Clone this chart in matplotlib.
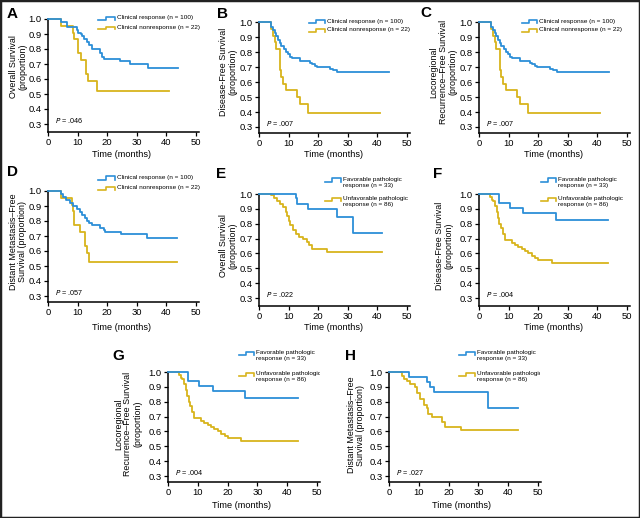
import matplotlib
matplotlib.use("Agg")
import matplotlib.pyplot as plt
from matplotlib.lines import Line2D
from matplotlib.patches import Rectangle
from matplotlib.transforms import Bbox, TransformedBbox

# ---- data (time in months, survival proportion) ----
a_resp_t = [0, 4.4, 6.3, 9.7, 10.3, 11.0, 11.6, 12.3, 13.1, 14.0, 14.8, 17.6, 18.1, 19.0, 24.3, 27.7, 33.7, 43.8]
a_resp_s = [1.0, 0.98, 0.95, 0.93, 0.91, 0.90, 0.885, 0.87, 0.85, 0.825, 0.80, 0.775, 0.75, 0.735, 0.718, 0.70, 0.673, 0.673]
a_non_t = [0, 4.4, 8.5, 8.8, 10.0, 11.2, 12.7, 13.5, 16.7, 40.8]
a_non_s = [1.0, 0.955, 0.909, 0.864, 0.773, 0.727, 0.636, 0.59, 0.52, 0.52]

b_resp_t = [0, 4.2, 4.8, 5.3, 5.9, 6.4, 7.0, 7.6, 8.3, 9.0, 9.8, 10.4, 11.0, 13.8, 17.2, 18.0, 18.8, 19.6, 24.0, 25.0, 26.2, 43.8]
b_resp_s = [1.0, 0.97, 0.95, 0.93, 0.91, 0.88, 0.86, 0.84, 0.82, 0.80, 0.79, 0.77, 0.76, 0.74, 0.73, 0.72, 0.71, 0.70, 0.69, 0.68, 0.665, 0.665]
b_non_t = [0, 4.0, 4.8, 5.3, 5.9, 7.0, 7.5, 8.2, 9.2, 12.8, 14.0, 16.6, 41.0]
b_non_s = [1.0, 0.955, 0.909, 0.864, 0.818, 0.682, 0.636, 0.59, 0.545, 0.50, 0.455, 0.395, 0.395]

c_resp_t = list(b_resp_t)
c_resp_s = list(b_resp_s)
c_non_t = list(b_non_t)
c_non_s = list(b_non_s)

d_resp_t = [0, 4.5, 5.0, 6.2, 7.3, 8.5, 9.8, 10.7, 11.6, 12.4, 13.2, 13.9, 14.7, 17.5, 18.8, 19.4, 24.5, 33.3, 43.7]
d_resp_s = [1.0, 0.98, 0.96, 0.94, 0.92, 0.90, 0.88, 0.86, 0.84, 0.82, 0.80, 0.79, 0.775, 0.755, 0.74, 0.725, 0.713, 0.685, 0.685]
d_non_t = [0, 4.3, 8.1, 8.5, 8.9, 10.7, 12.4, 13.2, 13.9, 43.7]
d_non_s = [1.0, 0.955, 0.909, 0.864, 0.773, 0.727, 0.636, 0.59, 0.53, 0.53]

e_fav_t = [0, 12.4, 12.9, 16.6, 26.2, 31.9, 41.5]
e_fav_s = [1.0, 0.97, 0.933, 0.90, 0.845, 0.738, 0.738]
e_unf_t = [0, 4.1, 5.0, 6.0, 7.1, 8.2, 9.0, 9.6, 10.1, 10.6, 11.5, 12.5, 13.5, 15.0, 16.2, 17.0, 17.8, 23.0, 41.5]
e_unf_s = [1.0, 0.99, 0.97, 0.95, 0.93, 0.91, 0.88, 0.85, 0.82, 0.79, 0.76, 0.73, 0.71, 0.70, 0.68, 0.66, 0.63, 0.61, 0.61]

f_fav_t = [0, 6.8, 10.5, 15.0, 26.0, 43.7]
f_fav_s = [1.0, 0.94, 0.906, 0.872, 0.822, 0.822]
f_unf_t = [0, 3.6, 4.3, 4.8, 5.4, 6.0, 6.5, 6.9, 7.4, 8.0, 8.8, 11.0, 12.2, 13.3, 14.4, 15.5, 16.7, 17.8, 19.0, 20.0, 24.5, 43.7]
f_unf_s = [1.0, 0.98, 0.96, 0.95, 0.92, 0.88, 0.84, 0.80, 0.77, 0.73, 0.69, 0.67, 0.66, 0.645, 0.63, 0.615, 0.60, 0.585, 0.57, 0.555, 0.537, 0.537]

g_fav_t = list(f_fav_t)
g_fav_s = list(f_fav_s)
g_unf_t = list(f_unf_t)
g_unf_s = list(f_unf_s)

h_fav_t = [0, 6.8, 12.8, 13.6, 15.1, 33.3, 43.3]
h_fav_s = [1.0, 0.967, 0.933, 0.90, 0.867, 0.758, 0.758]
h_unf_t = [0, 4.2, 5.2, 6.0, 7.0, 8.6, 9.5, 10.5, 11.7, 12.6, 13.2, 14.3, 17.9, 18.8, 24.0, 43.3]
h_unf_s = [1.0, 0.97, 0.955, 0.94, 0.92, 0.90, 0.86, 0.82, 0.78, 0.755, 0.72, 0.70, 0.665, 0.63, 0.61, 0.61]

letters = ["A", "B", "C", "D", "E", "F", "G", "H"]
ylabels = ["Overall Survival\n(proportion)",
           "Disease-Free Survival\n(proportion)",
           "Locoregional\nRecurrence\u2013Free Survival\n(proportion)",
           "Distant Metastasis\u2013Free\nSurvival (proportion)",
           "Overall Survival\n(proportion)",
           "Disease-Free Survival\n(proportion)",
           "Locoregional\nRecurrence\u2013Free Survival\n(proportion)",
           "Distant Metastasis\u2013Free\nSurvival (proportion)"]
pvalues = [".046", ".007", ".007", ".057", ".022", ".004", ".004", ".027"]
clin_labels = ["Clinical response (n = 100)", "Clinical nonresponse (n = 22)"]
path_labels = ["Favorable pathologic\nresponse (n = 33)", "Unfavorable pathologic\nresponse (n = 86)"]
yticks = [0.3, 0.4, 0.5, 0.6, 0.7, 0.8, 0.9, 1.0]
xticks = [0, 10, 20, 30, 40, 50]

series = [
    (a_resp_t, a_resp_s, a_non_t, a_non_s),
    (b_resp_t, b_resp_s, b_non_t, b_non_s),
    (c_resp_t, c_resp_s, c_non_t, c_non_s),
    (d_resp_t, d_resp_s, d_non_t, d_non_s),
    (e_fav_t, e_fav_s, e_unf_t, e_unf_s),
    (f_fav_t, f_fav_s, f_unf_t, f_unf_s),
    (g_fav_t, g_fav_s, g_unf_t, g_unf_s),
    (h_fav_t, h_fav_s, h_unf_t, h_unf_s),
]

# ---- layout in pixels: x of 0 and 50 months, y of 1.0 and 0.3, x-axis line ----
W, H = 640, 518
axes_px = [(48, 196, 19, 124, 132), (259, 407, 22, 127, 133), (479, 627, 22, 127, 133),
           (48, 196, 191, 296, 302), (259, 407, 194, 298, 306), (479, 627, 194, 298, 306),
           (168, 317, 372, 476, 482), (389, 538, 372, 476, 482)]
letter_px = [(12, 14), (222, 14), (426, 13), (12, 172), (221, 174), (438, 174), (118, 356), (350, 356)]
ylabel_px = [(18, 67), (228, 72), (443, 72), (18, 242), (228, 246), (444, 246), (128, 424), (356, 425)]
xlabel_px = [(121, 154), (334, 154), (554, 154), (121, 328), (334, 328), (554, 328), (242, 505), (462, 505)]
# legend: handle start, handle end, text x, row1 y, row2 y
legend_px = [(98, 115, 117, 18, 28), (309, 325, 327, 21, 30), (522, 537, 539, 21, 30),
             (98, 115, 117, 178, 188), (325, 341, 343, 180, 199), (541, 556, 558, 180, 199),
             (239, 254, 256, 353, 374), (459, 475, 477, 353, 374)]
clip_right = [640, 640, 640, 640, 640, 640, 320, 540]

BLUE = "#2c8fd8"
YELLOW = "#d8b41c"
plt.rcParams["font.family"] = ["Liberation Sans", "DejaVu Sans"]

fig = plt.figure(figsize=(6.4, 5.18), dpi=100)


def fxy(px, py):
    return px / W, 1 - py / H


for i in range(8):
    x0, x50, y10, y03, xa = axes_px[i]
    ppm = (x50 - x0) / 50
    ppu = (y03 - y10) / 0.7
    xmax, ymax = 51, 1.01
    ymin = 0.3 - (xa - y03) / ppu
    right = x0 + xmax * ppm
    top = y10 - (ymax - 1.0) * ppu
    ax = fig.add_axes([x0 / W, 1 - xa / H, (right - x0) / W, (xa - top) / H])
    ax.set_xlim(0, xmax)
    ax.set_ylim(ymin, ymax)
    for s in ["top", "right"]:
        ax.spines[s].set_visible(False)
    for s in ["left", "bottom"]:
        ax.spines[s].set_linewidth(1.1)
    ax.spines["left"].set_bounds(ymin, 1.0)
    ax.set_xticks(xticks)
    ax.set_yticks(yticks)
    ax.set_yticklabels(["%.1f" % v for v in yticks])
    ax.tick_params(direction="out", length=3, width=0.9, labelsize=6.8, pad=1.5)

    t1, s1, t2, s2 = series[i]
    ax.step(t1, s1, where="post", color=BLUE, lw=1.3, clip_on=False, zorder=3)
    ax.step(t2, s2, where="post", color=YELLOW, lw=1.3, clip_on=False, zorder=2)

    ax.text(2.2, 0.322, r"$\mathit{P}$ = " + pvalues[i], fontsize=5.2, ha="left", va="center")

    fig.text(*fxy(*letter_px[i]), letters[i], fontsize=11, fontweight="bold", ha="center", va="center")
    fig.text(*fxy(*ylabel_px[i]), ylabels[i], rotation=90, ha="center", va="center",
             multialignment="center", fontsize=6.4, linespacing=1.1)
    fig.text(*fxy(*xlabel_px[i]), "Time (months)", ha="center", va="center", fontsize=6.6)

    # legend with a small step-shaped handle
    hx0, hx1, tx, r1, r2 = legend_px[i]
    labels = clin_labels if i < 4 else path_labels
    clipbox = TransformedBbox(Bbox([[0, 0], [clip_right[i] / W, 1]]), fig.transFigure)
    for row, col, lab in [(r1, BLUE, labels[0]), (r2, YELLOW, labels[1])]:
        w = hx1 - hx0
        xs = [hx0, hx0 + 0.45 * w, hx0 + 0.45 * w, hx1, hx1]
        ys = [row + 1.5, row + 1.5, row - 1.5, row - 1.5, row + 1.5]
        fig.add_artist(Line2D([x / W for x in xs], [1 - y / H for y in ys], color=col, lw=1.2,
                              transform=fig.transFigure))
        if i < 4:
            txt = fig.text(*fxy(tx, row), lab, ha="left", va="center", fontsize=4.6)
        else:
            txt = fig.text(*fxy(tx, row - 3.0), lab, ha="left", va="top", fontsize=4.6,
                           linespacing=1.35)
        txt.set_clip_box(clipbox)
        txt.set_clip_on(True)

# thin frame round the whole figure
fig.add_artist(Rectangle((0, 0), 1, 1, transform=fig.transFigure, fill=False, lw=2.5, ec="#222222"))

fig.savefig("out.png", dpi=100)
